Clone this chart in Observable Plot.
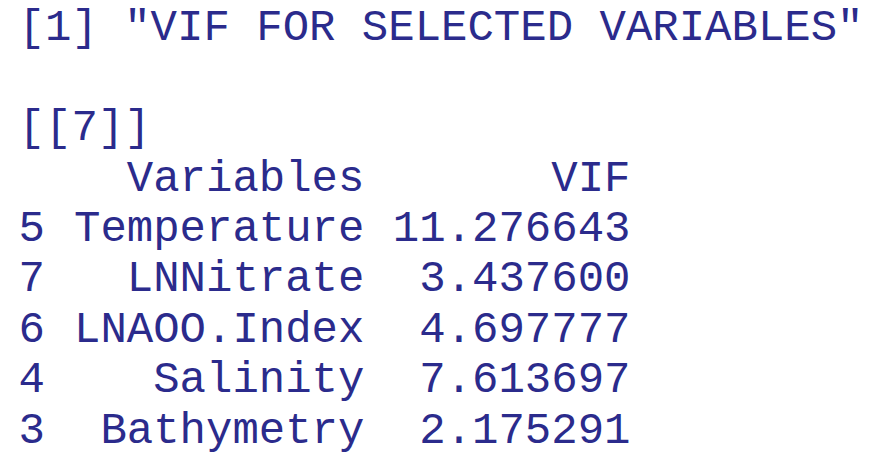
<!DOCTYPE html>
<html>
<head>
<meta charset="utf-8">
<script src="https://cdn.jsdelivr.net/npm/d3@7"></script>
<script src="https://cdn.jsdelivr.net/npm/@observablehq/plot@0.6"></script>
<style>
  body { margin: 0; background: #fff; }
</style>
</head>
<body>
<div id="chart"></div>
<script>
// salida de consola de R
const titulo = '[1] "VIF FOR SELECTED VARIABLES"'
const lista = '[[7]]'
const encabezados = ['Variables', 'VIF']
const ids = ['5', '7', '6', '4', '3']
const variables = ['Temperature', 'LNNitrate', 'LNAOO.Index', 'Salinity', 'Bathymetry']
const vif = ['11.276643', '3.437600', '4.697777', '7.613697', '2.175291']

const izq = [
  {linea: 0, col: 0, t: titulo},
  {linea: 2, col: 0, t: lista},
  ...ids.map((d, i) => ({linea: 4 + i, col: 0, t: d}))
]
const der = [
  {linea: 3, col: 13, t: encabezados[0]},
  {linea: 3, col: 23, t: encabezados[1]},
  ...variables.map((d, i) => ({linea: 4 + i, col: 13, t: d})),
  ...vif.map((d, i) => ({linea: 4 + i, col: 23, t: d}))
]

const estilo = {fontSize: 44, fill: '#2b2b8c', lineAnchor: 'middle'}

let chart = Plot.plot({
  width: 896,
  height: 455,
  margin: 0,
  x: {domain: [-0.68, 33], range: [0, 896], axis: null},
  y: {domain: [0, 8], range: [25, 428], axis: null},
  style: {fontFamily: '"Liberation Mono", "Courier New", monospace', background: '#fff'},
  marks: [
    Plot.text(izq, {x: 'col', y: 'linea', text: 't', textAnchor: 'start', ...estilo}),
    Plot.text(der, {x: 'col', y: 'linea', text: 't', textAnchor: 'end', ...estilo})
  ]
})

d3.select('#chart').append(() => chart)
</script>
</body>
</html>
